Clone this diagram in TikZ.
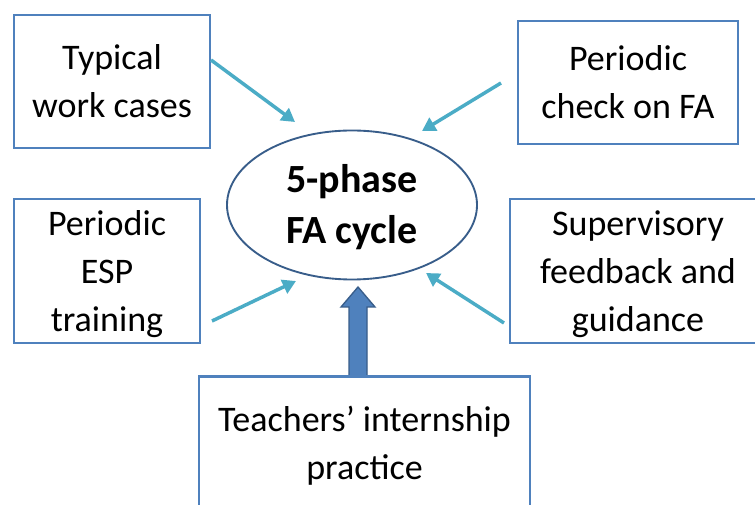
\documentclass[tikz,border=0pt]{standalone}
\usepackage{fontspec}
\setmainfont{Carlito}
\usetikzlibrary{shapes.geometric,arrows.meta,calc}
\definecolor{boxblue}{RGB}{79,129,189}
\definecolor{ellblue}{RGB}{56,93,138}
\definecolor{cyanarr}{RGB}{75,172,198}
\definecolor{bigfill}{RGB}{79,129,189}
\newcommand{\lst}{\rule[-0.24\baselineskip]{0pt}{\baselineskip}}
\begin{document}
\begin{tikzpicture}[x=0.75pt,y=-0.75pt,
  box/.style={draw=boxblue, line width=1.5pt, fill=white, inner sep=0pt, align=center,
              font=\fontsize{27}{36}\selectfont},
  cyc/.style={ellipse, draw=ellblue, line width=1.4pt, fill=white, inner sep=0pt,
              minimum width=187.5pt, minimum height=111.75pt, align=center,
              font=\bfseries\fontsize{30}{38.25}\selectfont},
  cyarr/.style={draw=cyanarr, line width=2.6pt, -{Triangle[length=10pt,width=11pt]}},
  bigarr/.style={draw=ellblue, fill=bigfill, line width=1pt, line join=miter}]
\useasboundingbox (0,0) rectangle (755,505);
\fill[white] (0,0) rectangle (755,505);

\node[box, minimum width=147pt, minimum height=99.75pt] (typ) at (112,81.5)
  {\lst Typical\\\lst work cases};
\node[box, minimum width=165pt, minimum height=92.25pt] (chk) at (628,82.5)
  {\lst Periodic\\\lst check on FA};
\node[box, minimum width=139.5pt, minimum height=100.5pt] (esp) at (107,271)
  {\lst Periodic\\\lst ESP\\\lst training};
\node[box, minimum width=192pt, minimum height=100.5pt] (sup) at (638,271)
  {\lst Supervisory\\\lst feedback and\\\lst guidance};
\node[box, minimum width=248.25pt, minimum height=99.75pt] (tea) at (364.5,443.5)
  {\lst Teachers’ internship\\\lst practice};
\node[cyc] (cyc) at (352,205) {\lst 5-phase\\\lst FA cycle};

\draw[cyarr] ($(typ.east)+(0,-21.5)$) -- ($(cyc.center)+(-57,-83)$);
\draw[cyarr] ($(chk.west)+(-16,0.5)$) -- ($(cyc.center)+(70,-74)$);
\draw[cyarr] ($(esp.east)+(11,50)$) -- ($(cyc.center)+(-56,76)$);
\draw[cyarr] ($(sup.west)+(-5,52)$) -- ($(cyc.center)+(74,68)$);

\path ($(tea.north)+(-6.5,0)$) coordinate (ab);
\draw[bigarr] ($(ab)+(-9,0)$) -- ($(ab)+(-9,-69)$) -- ($(ab)+(-17,-69)$)
  -- ($(ab)+(0,-89)$) -- ($(ab)+(17,-69)$) -- ($(ab)+(9,-69)$) -- ($(ab)+(9,0)$) -- cycle;
\draw[boxblue, line width=1.5pt] (tea.north west) -- (tea.north east);
\end{tikzpicture}
\end{document}
